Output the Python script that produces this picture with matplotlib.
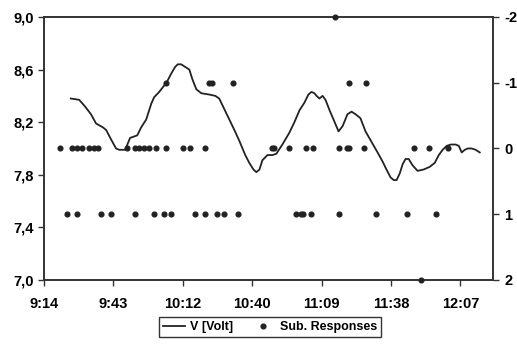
import numpy as np
import matplotlib
matplotlib.use("Agg")
import matplotlib.pyplot as plt

plt.rcParams.update({'font.family': ['Liberation Sans', 'DejaVu Sans'],
                     'font.weight': 'bold', 'font.size': 10})

# voltage trace: time in minutes after midnight, volts
t_volt = [565.5, 569.0, 571.4, 573.9, 576.0, 578.9, 580.2, 582.2, 584.3, 585.6,
          588.1, 590.1, 593.1, 594.7, 596.8, 598.9, 600.1, 602.2, 603.9, 605.5,
          607.2, 608.8, 609.9, 611.3, 613.0, 614.7, 615.9, 617.6, 619.7, 623.0,
          625.5, 627.1, 629.2, 631.3, 633.4, 635.4, 637.9, 639.6, 641.3, 642.5,
          643.8, 645.0, 647.1, 649.2, 650.8, 653.3, 656.2, 658.3, 660.4, 662.5,
          664.1, 665.4, 666.6, 667.5, 668.7, 670.0, 671.2, 672.9, 675.0, 676.6,
          678.3, 680.3, 682.0, 683.7, 685.7, 687.8, 690.3, 692.8, 694.9, 696.5,
          698.2, 699.5, 700.7, 702.0, 703.2, 704.4, 705.7, 707.4, 709.4, 711.9,
          714.4, 716.5, 718.2, 719.8, 721.5, 723.2, 725.2, 726.5, 727.7, 729.0,
          730.2, 731.9, 733.5, 735.2]
volt = [8.38, 8.37, 8.32, 8.26, 8.19, 8.16, 8.14, 8.07, 8.00, 7.99,
        7.99, 8.08, 8.10, 8.16, 8.22, 8.34, 8.39, 8.43, 8.47, 8.51,
        8.57, 8.62, 8.64, 8.64, 8.62, 8.60, 8.53, 8.45, 8.42, 8.41,
        8.40, 8.38, 8.30, 8.22, 8.14, 8.06, 7.95, 7.89, 7.84, 7.82,
        7.84, 7.91, 7.95, 7.95, 7.96, 8.03, 8.12, 8.20, 8.29, 8.35,
        8.41, 8.43, 8.42, 8.40, 8.38, 8.40, 8.37, 8.29, 8.20, 8.13,
        8.17, 8.26, 8.28, 8.26, 8.23, 8.13, 8.05, 7.97, 7.90, 7.84,
        7.78, 7.76, 7.76, 7.81, 7.88, 7.92, 7.92, 7.87, 7.83, 7.84,
        7.86, 7.89, 7.95, 7.99, 8.02, 8.03, 8.03, 8.02, 7.97, 7.99,
        8.00, 8.00, 7.99, 7.97]

# subjective responses (right axis)
t_resp = [564, 568, 578, 582, 592, 600, 604, 607, 617, 621, 626, 629, 635,
          659, 661, 662, 665, 677, 692, 705, 717,
          561, 566, 568, 570, 573, 575, 577, 589, 592, 594, 596, 598, 601, 605,
          612, 615, 621, 649, 650, 656, 663, 666, 677, 680, 681, 687, 708, 714, 722,
          605, 623, 624, 633, 681, 688,
          675, 711]
resp = [1] * 21 + [0] * 29 + [-1] * 6 + [-2, 2]

x_ticks = [554.4, 583.2, 612.0, 640.8, 669.6, 698.4, 727.2]
x_labels = ["9:14", "9:43", "10:12", "10:40", "11:09", "11:38", "12:07"]
y_ticks = [7.0, 7.4, 7.8, 8.2, 8.6, 9.0]
y_labels = ["7,0", "7,4", "7,8", "8,2", "8,6", "9,0"]
r_ticks = [-2, -1, 0, 1, 2]

fig = plt.figure(figsize=(5.17, 3.47), dpi=100)
ax = fig.add_axes([0.0851, 0.1931, 0.8685, 0.758])
ax2 = ax.twinx()

line, = ax.plot(t_volt, volt, color='#222222', lw=1.3, label='V [Volt]')
dots, = ax2.plot(t_resp, resp, 'o', color='#222222', ms=3.4, ls='none',
                 clip_on=False, label='Sub. Responses', zorder=5)

ax.set_xlim(554.4, 740.7)
ax.set_ylim(7.0, 9.0)
ax2.set_ylim(2, -2)

ax.set_xticks(x_ticks)
ax.set_xticklabels(x_labels)
ax.set_yticks(y_ticks)
ax.set_yticklabels(y_labels)
ax2.set_yticks(r_ticks)
ax2.set_yticklabels([str(r) for r in r_ticks])

for a in (ax, ax2):
    for s in a.spines.values():
        s.set_color('#333333')
        s.set_linewidth(1.2)
    a.tick_params(direction='out', length=4, width=1, colors='#333333',
                  labelcolor='black', labelsize=10.5)
ax.tick_params(axis='x', pad=8)
ax2.tick_params(axis='y', pad=4)

fig.legend([line, dots], ['V [Volt]', 'Sub. Responses'], loc='center',
           bbox_to_anchor=(0.522, 0.057), ncol=2, fontsize=9, frameon=True,
           fancybox=False, edgecolor='black', handlelength=1.8,
           columnspacing=1.5, handletextpad=0.4, borderpad=0.3)

fig.savefig("out.png", dpi=100)
